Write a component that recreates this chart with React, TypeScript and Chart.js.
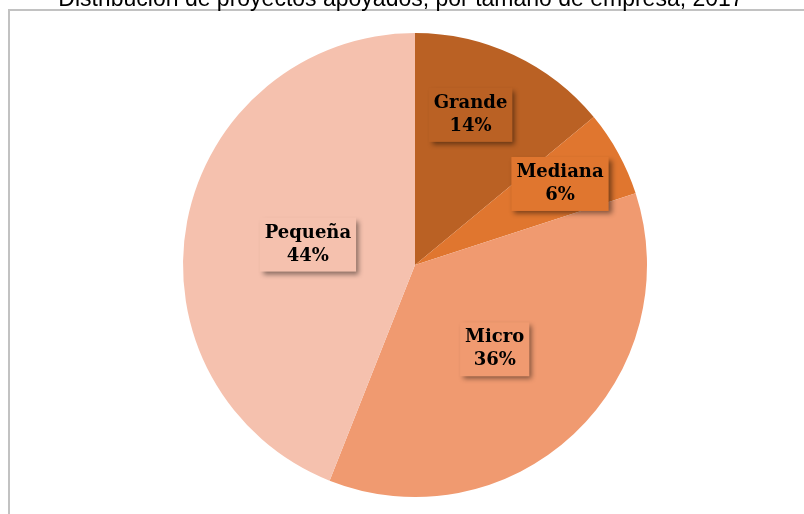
import React, { useEffect, useRef } from "react";
import { Chart, registerables } from "chart.js";

Chart.register(...registerables);

const TITLE = "Distribución de proyectos apoyados, por tamaño de empresa, 2017";
const categories = ["Grande", "Mediana", "Micro", "Pequeña"];
const shares = [14, 6, 36, 44];
const colors = ["#BA6124", "#E0762F", "#F09A70", "#F5C1AE"];

// label placement per slice: [radius fraction, angle offset in degrees]
const labelPlacement = [
  [0.69, -4.9],
  [0.716, -0.4],
  [0.5, -0.2],
  [0.47, 0],
];

const framePlugin = {
  id: "frame",
  beforeDraw(chart: any) {
    const { ctx } = chart;
    ctx.save();
    ctx.fillStyle = "#ffffff";
    ctx.fillRect(0, 0, chart.width, chart.height);
    ctx.strokeStyle = "#C2C2C2";
    ctx.lineWidth = 2;
    ctx.strokeRect(9, 10, chart.width + 20, chart.height + 20);
    ctx.fillStyle = "#000000";
    ctx.font = "23px 'Liberation Sans', Arial, sans-serif";
    ctx.textAlign = "center";
    ctx.textBaseline = "alphabetic";
    ctx.fillText(TITLE, 401, 6);
    ctx.restore();
  },
};

const labelPlugin = {
  id: "sliceLabels",
  afterDatasetsDraw(chart: any) {
    const { ctx } = chart;
    const meta = chart.getDatasetMeta(0);
    const ds = chart.data.datasets[0];
    ctx.save();
    ctx.font = "bold 18px 'DejaVu Serif', serif";
    ctx.textAlign = "center";
    ctx.textBaseline = "middle";
    const lineH = 23;
    meta.data.forEach((arc: any, i: number) => {
      const p = arc.getProps(["x", "y", "startAngle", "endAngle", "outerRadius"], true);
      const [frac, offDeg] = labelPlacement[i];
      const mid = (p.startAngle + p.endAngle) / 2 + (offDeg * Math.PI) / 180;
      const r = p.outerRadius * frac;
      const cx = p.x + Math.cos(mid) * r;
      const cy = p.y + Math.sin(mid) * r;
      const l1 = chart.data.labels[i];
      const l2 = ds.data[i] + "%";
      const w = Math.max(ctx.measureText(l1).width, ctx.measureText(l2).width) + 10;
      const h = lineH * 2 + 8;
      ctx.save();
      ctx.shadowColor = "rgba(0,0,0,0.45)";
      ctx.shadowBlur = 5;
      ctx.shadowOffsetX = 3;
      ctx.shadowOffsetY = 3;
      ctx.fillStyle = ds.backgroundColor[i];
      ctx.fillRect(cx - w / 2, cy - h / 2, w, h);
      ctx.restore();
      ctx.fillStyle = "#000000";
      ctx.fillText(l1, cx, cy - lineH / 2);
      ctx.fillText(l2, cx, cy + lineH / 2);
    });
    ctx.restore();
  },
};

export default function App() {
  const ref = useRef<HTMLCanvasElement>(null);
  useEffect(() => {
    if (!ref.current) return;
    const chart = new Chart(ref.current, {
      type: "pie",
      data: {
        labels: categories,
        datasets: [
          {
            data: shares,
            backgroundColor: colors,
            borderWidth: 0,
          },
        ],
      },
      options: {
        responsive: false,
        animation: false,
        devicePixelRatio: 1,
        layout: { padding: { left: 126, right: 100, top: 33, bottom: 17 } },
        plugins: {
          legend: { display: false },
          tooltip: { enabled: false },
          title: { display: false },
        },
      },
      plugins: [framePlugin, labelPlugin],
    });
    return () => chart.destroy();
  }, []);
  return (
    <div style={{ position: "fixed", left: 0, top: 0, width: 804, height: 514, background: "#fff" }}>
      <canvas ref={ref} width={804} height={514} style={{ display: "block" }} />
    </div>
  );
}
